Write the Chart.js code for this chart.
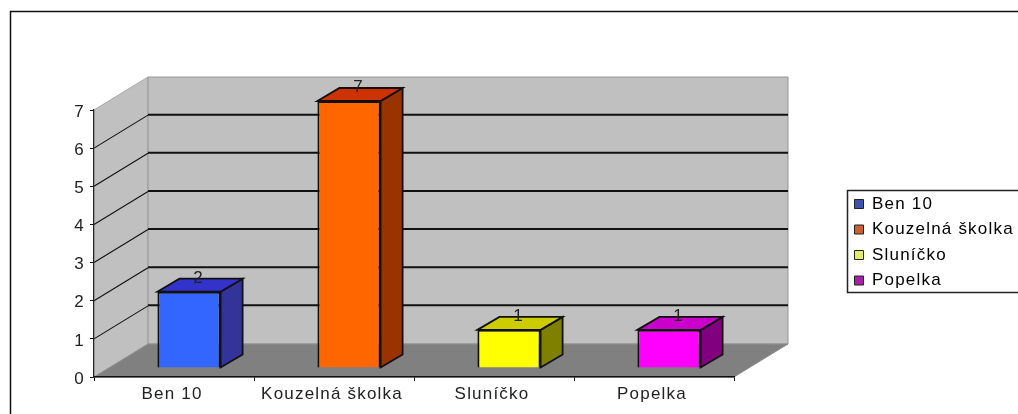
<!DOCTYPE html>
<html>
<head>
<meta charset="utf-8">
<style>
html,body{margin:0;padding:0;background:#fff;overflow:hidden}
canvas{display:block;filter:blur(0.4px)}
</style>
<script src="https://cdn.jsdelivr.net/npm/chart.js@4"></script>
</head>
<body>
<canvas id="c" width="1018" height="414"></canvas>
<script>
const categories = ["Ben 10", "Kouzelná školka", "Sluníčko", "Popelka"];
const values = [2, 7, 1, 1];

const frontColors = ["#3366ff", "#ff6600", "#ffff00", "#ff00ff"];
const sideColors = ["#333399", "#993300", "#808000", "#800080"];
const topColors = ["#3333cc", "#cc3300", "#cccc00", "#cc00cc"];
const legendColors = ["#4052b0", "#cc6030", "#e0ee60", "#a820a8"];

const FONT = "'Liberation Sans', Arial, sans-serif";
const TEXT = "#222222";
const SPACING = "1.2px";
// 3D projection offsets
const WALL = {dx: 54, dy: -33};
const BAR_SHIFT = {dx: 15, dy: -9};
const BAR_DEPTH = {dx: 22, dy: -13};

function poly(ctx, pts, fill, stroke, lw) {
  ctx.beginPath();
  pts.forEach((p, i) => i ? ctx.lineTo(p[0], p[1]) : ctx.moveTo(p[0], p[1]));
  ctx.closePath();
  if (fill) { ctx.fillStyle = fill; ctx.fill(); }
  if (stroke) { ctx.strokeStyle = stroke; ctx.lineWidth = lw || 1; ctx.stroke(); }
}

const threeD = {
  id: "threeD",
  beforeUpdate(chart) { chart.ctx.letterSpacing = SPACING; },
  beforeLayout(chart) { chart.ctx.letterSpacing = SPACING; },
  afterLayout(chart) {
    const lg = chart.legend;
    lg.left = 846; lg.right = 1040; lg.top = 187; lg.bottom = 414;
  },
  beforeDraw(chart) {
    const ctx = chart.ctx;
    ctx.letterSpacing = SPACING;
    const {left: l, right: r} = chart.chartArea;
    const y = chart.scales.y;
    const y0 = y.getPixelForValue(0), yTop = y.getPixelForValue(y.max);
    const {dx, dy} = WALL;
    ctx.save();
    ctx.letterSpacing = "0px";
    // frame
    ctx.strokeStyle = "#111"; ctx.lineWidth = 1.5;
    ctx.beginPath(); ctx.moveTo(10.5, 414); ctx.lineTo(10.5, 11.5); ctx.lineTo(1018, 11.5); ctx.stroke();
    // walls and floor
    poly(ctx, [[l, yTop], [l + dx, yTop + dy], [l + dx, y0 + dy], [l, y0]], "#c0c0c0", "#a8a8a8", 1);
    poly(ctx, [[l + dx, yTop + dy], [r + dx, yTop + dy], [r + dx, y0 + dy], [l + dx, y0 + dy]], "#c0c0c0", "#969696", 1);
    poly(ctx, [[l, y0], [l + dx, y0 + dy], [r + dx, y0 + dy], [r, y0]], "#808080", "#909090", 1);
    // gridlines
    y.ticks.forEach(t => {
      if (t.value <= 0 || t.value >= y.max) return;
      const py = y.getPixelForValue(t.value);
      ctx.strokeStyle = "#111";
      ctx.lineWidth = 1.1;
      ctx.beginPath(); ctx.moveTo(l, py); ctx.lineTo(l + dx, py + dy); ctx.stroke();
      ctx.lineWidth = 2;
      ctx.beginPath(); ctx.moveTo(l + dx, py + dy - 0.5); ctx.lineTo(r + dx, py + dy - 0.5); ctx.stroke();
    });
    ctx.restore();
  },
  beforeDatasetDraw(chart, args) {
    const ctx = chart.ctx;
    const meta = args.meta;
    ctx.save();
    ctx.translate(BAR_SHIFT.dx, BAR_SHIFT.dy);
    meta.data.forEach((b, i) => {
      const l = b.x - b.width / 2, r = b.x + b.width / 2;
      const {dx, dy} = BAR_DEPTH;
      poly(ctx, [[r, b.y], [r + dx, b.y + dy], [r + dx, b.base + dy], [r, b.base]], sideColors[i], "#111", 1.8);
      poly(ctx, [[l, b.y], [l + dx, b.y + dy], [r + dx, b.y + dy], [r, b.y]], topColors[i], "#111", 1.8);
    });
  },
  afterDatasetDraw(chart, args) {
    const ctx = chart.ctx;
    ctx.restore();
    ctx.save();
    ctx.font = "17px " + FONT;
    ctx.letterSpacing = "0px";
    ctx.fillStyle = TEXT;
    ctx.textAlign = "center";
    ctx.textBaseline = "middle";
    args.meta.data.forEach((b, i) => {
      ctx.fillText(String(values[i]), b.x + 24, b.y - 22.5);
    });
    ctx.restore();
  },
  afterDraw(chart) {
    const ctx = chart.ctx;
    ctx.save();
    ctx.strokeStyle = "#222"; ctx.lineWidth = 1.5;
    ctx.strokeRect(847.5, 190.5, 190, 102);
    ctx.restore();
  }
};

new Chart(document.getElementById("c"), {
  type: "bar",
  data: {
    labels: categories,
    datasets: [{
      data: values,
      backgroundColor: frontColors,
      borderColor: "#111",
      borderWidth: 2,
      categoryPercentage: 1,
      barPercentage: 0.395
    }]
  },
  plugins: [threeD],
  options: {
    responsive: false,
    animation: false,
    layout: {padding: {left: 0, right: 284, top: 110, bottom: 0}},
    scales: {
      x: {
        offset: true,
        afterFit(s) { s.height = 37; },
        grid: {offset: true, drawOnChartArea: false, tickLength: 4, color: "#111"},
        border: {color: "#111", width: 1.6},
        ticks: {color: TEXT, padding: 3, labelOffset: -2, autoSkip: false, maxRotation: 0, minRotation: 0, font: {family: FONT, size: 17}}
      },
      y: {
        min: 0,
        max: 7,
        afterFit(s) { s.width = 94; },
        grid: {drawOnChartArea: false, tickLength: 4, color: "#111"},
        border: {color: "#222", width: 1.2},
        ticks: {color: TEXT, padding: 5, labelOffset: 2, stepSize: 1, font: {family: FONT, size: 17}}
      }
    },
    plugins: {
      title: {display: false},
      tooltip: {enabled: false},
      legend: {
        position: "chartArea",
        align: "start",
        labels: {
          boxWidth: 9,
          boxHeight: 9,
          padding: 8.5,
          color: TEXT,
          font: {family: FONT, size: 17},
          generateLabels() {
            return categories.map((c, i) => ({
              text: c,
              fillStyle: legendColors[i],
              strokeStyle: "#222",
              lineWidth: 1,
              index: i
            }));
          }
        }
      }
    }
  }
});
</script>
</body>
</html>
